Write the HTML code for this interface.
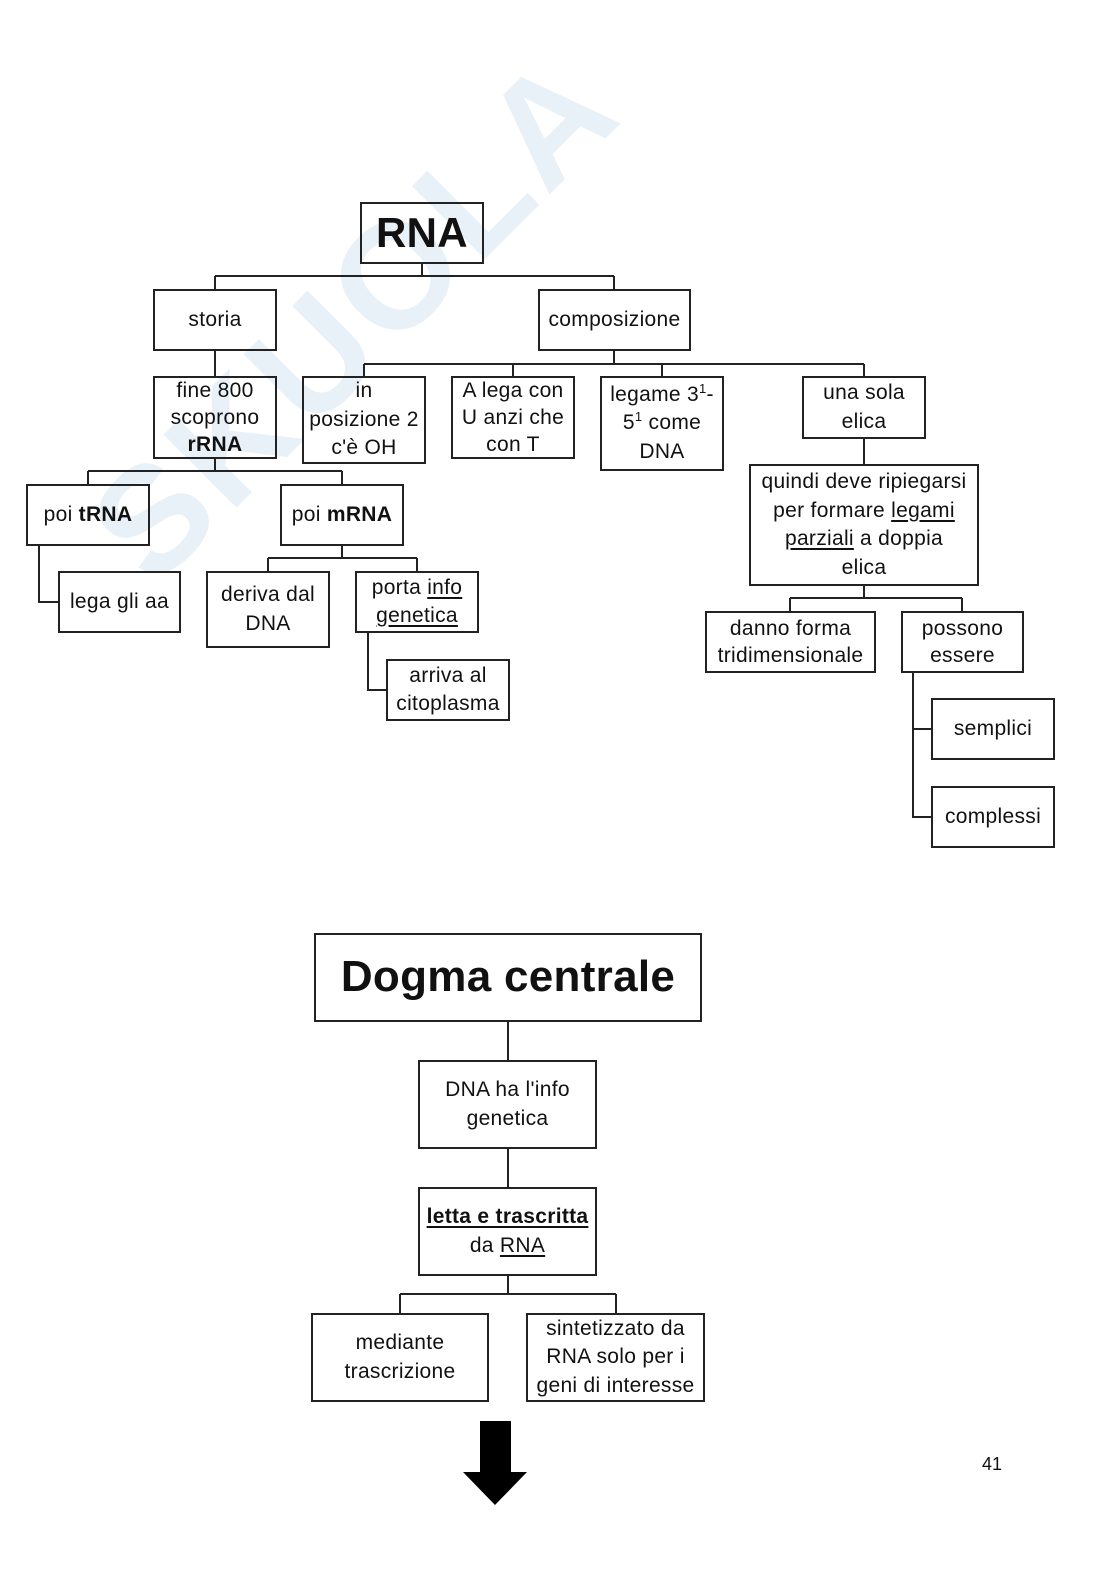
<!DOCTYPE html>
<html><head><meta charset="utf-8">
<style>
body{margin:0;background:#fff;}
#p{position:relative;width:1116px;height:1578px;overflow:hidden;background:#fff;font-family:"Liberation Sans",sans-serif;color:#111;}
.b{position:absolute;border:2px solid #222;box-sizing:border-box;display:flex;align-items:center;justify-content:center;text-align:center;font-size:21px;line-height:28.5px;white-space:nowrap;letter-spacing:0.3px}
.b>span{display:block}
u{text-decoration:underline;text-underline-offset:3px}
sup{font-size:13px;line-height:0;vertical-align:super}
svg{position:absolute;left:0;top:0}
.wm{position:absolute;font-weight:bold;color:#e8f0f8;font-size:150px;transform:rotate(-45deg);left:20px;top:230px;letter-spacing:6px}
</style></head><body><div id="p">
<div class="wm">SKUOLA</div>
<svg width="1116" height="1578" stroke="#222" stroke-width="2" fill="none">
<path d="M422 264V276M215 276H614M215 276V289M614 276V289"/>
<path d="M215 351V376"/>
<path d="M614 351V364M364 364H864M364 364V376M513 364V376M662 364V376M864 364V376"/>
<path d="M215 459V471M88 471H342M88 471V484M342 471V484"/>
<path d="M39 546V602H58"/>
<path d="M342 546V558M268 558H417M268 558V571M417 558V571"/>
<path d="M368 633V690H386"/>
<path d="M864 439V464"/>
<path d="M864 586V598M790 598H962M790 598V611M962 598V611"/>
<path d="M913 673V817H931M913 729H931"/>
<path d="M508 1022V1060M508 1149V1187M508 1276V1294M400 1294H616M400 1294V1313M616 1294V1313"/>
<polygon points="480,1421 511,1421 511,1472 527,1472 495,1505 463,1472 480,1472" fill="#000" stroke="none"/>
</svg>
<div class="b" style="left:360px;top:202px;width:124px;height:62px;font-size:42px;font-weight:bold"><span>RNA</span></div>
<div class="b" style="left:153px;top:289px;width:124px;height:62px"><span>storia</span></div>
<div class="b" style="left:538px;top:289px;width:153px;height:62px"><span>composizione</span></div>
<div class="b" style="left:153px;top:376px;width:124px;height:83px;line-height:27px"><span>fine 800<br>scoprono<br><b>rRNA</b></span></div>
<div class="b" style="left:302px;top:376px;width:124px;height:88px"><span>in<br>posizione 2<br>c'è OH</span></div>
<div class="b" style="left:451px;top:376px;width:124px;height:83px;line-height:27px"><span>A lega con<br>U anzi che<br>con T</span></div>
<div class="b" style="left:600px;top:376px;width:124px;height:95px"><span>legame 3<sup>1</sup>-<br>5<sup>1</sup> come<br>DNA</span></div>
<div class="b" style="left:802px;top:376px;width:124px;height:63px"><span>una sola<br>elica</span></div>
<div class="b" style="left:749px;top:464px;width:230px;height:122px"><span>quindi deve ripiegarsi<br>per formare <u>legami</u><br><u>parziali</u> a doppia<br>elica</span></div>
<div class="b" style="left:26px;top:484px;width:124px;height:62px"><span>poi <b>tRNA</b></span></div>
<div class="b" style="left:280px;top:484px;width:124px;height:62px"><span>poi <b>mRNA</b></span></div>
<div class="b" style="left:58px;top:571px;width:123px;height:62px"><span>lega gli aa</span></div>
<div class="b" style="left:206px;top:571px;width:124px;height:77px"><span>deriva dal<br>DNA</span></div>
<div class="b" style="left:355px;top:571px;width:124px;height:62px"><span>porta <u>info</u><br><u>genetica</u></span></div>
<div class="b" style="left:386px;top:659px;width:124px;height:62px"><span>arriva al<br>citoplasma</span></div>
<div class="b" style="left:705px;top:611px;width:171px;height:62px;line-height:27px"><span>danno forma<br>tridimensionale</span></div>
<div class="b" style="left:901px;top:611px;width:123px;height:62px;line-height:27px"><span>possono<br>essere</span></div>
<div class="b" style="left:931px;top:698px;width:124px;height:62px"><span>semplici</span></div>
<div class="b" style="left:931px;top:786px;width:124px;height:62px"><span>complessi</span></div>
<div class="b" style="left:314px;top:933px;width:388px;height:89px;font-size:44px;font-weight:bold"><span>Dogma centrale</span></div>
<div class="b" style="left:418px;top:1060px;width:179px;height:89px"><span>DNA ha l'info<br>genetica</span></div>
<div class="b" style="left:418px;top:1187px;width:179px;height:89px"><span><b><u>letta e trascritta</u></b><br>da <u>RNA</u></span></div>
<div class="b" style="left:311px;top:1313px;width:178px;height:89px"><span>mediante<br>trascrizione</span></div>
<div class="b" style="left:526px;top:1313px;width:179px;height:89px"><span>sintetizzato da<br>RNA solo per i<br>geni di interesse</span></div>
<div style="position:absolute;left:982px;top:1454px;font-size:18px">41</div>
</div></body></html>
